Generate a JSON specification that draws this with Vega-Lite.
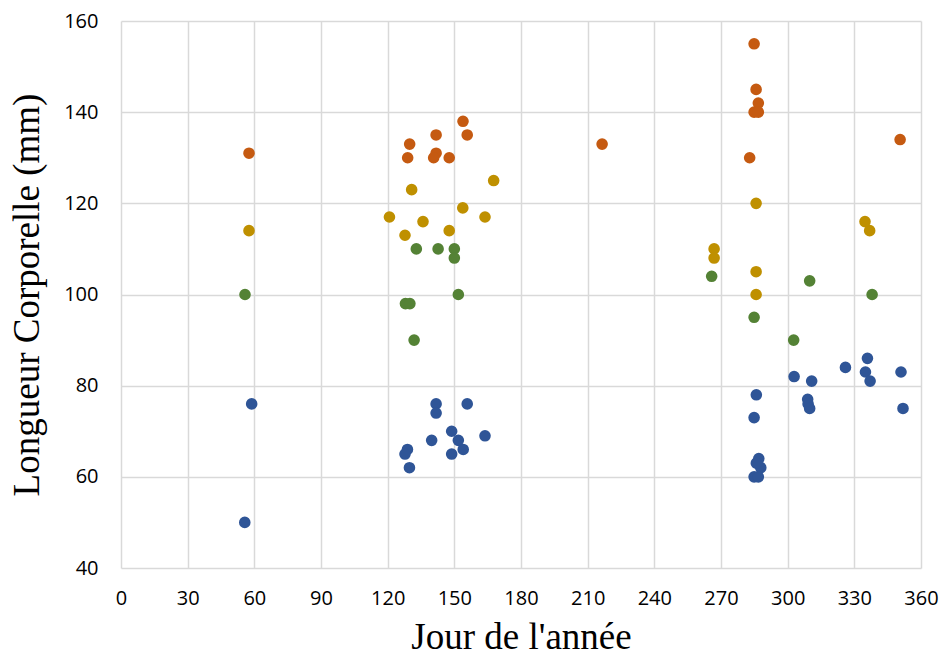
{
  "$schema": "https://vega.github.io/schema/vega-lite/v6.json",
  "autosize": "none",
  "width": 800,
  "height": 547,
  "padding": {"left": 121, "top": 21, "right": 19, "bottom": 89},
  "background": "white",
  "data": {"values": [
    {"jour": 57.6, "longueur": 131, "groupe": "orange"},
    {"jour": 153.9, "longueur": 138, "groupe": "orange"},
    {"jour": 155.8, "longueur": 135, "groupe": "orange"},
    {"jour": 141.8, "longueur": 135, "groupe": "orange"},
    {"jour": 129.9, "longueur": 133, "groupe": "orange"},
    {"jour": 129.0, "longueur": 130, "groupe": "orange"},
    {"jour": 141.8, "longueur": 131, "groupe": "orange"},
    {"jour": 140.7, "longueur": 130, "groupe": "orange"},
    {"jour": 147.7, "longueur": 130, "groupe": "orange"},
    {"jour": 216.5, "longueur": 133, "groupe": "orange"},
    {"jour": 284.9, "longueur": 155, "groupe": "orange"},
    {"jour": 285.8, "longueur": 145, "groupe": "orange"},
    {"jour": 286.8, "longueur": 142, "groupe": "orange"},
    {"jour": 284.9, "longueur": 140, "groupe": "orange"},
    {"jour": 286.8, "longueur": 140, "groupe": "orange"},
    {"jour": 282.9, "longueur": 130, "groupe": "orange"},
    {"jour": 350.6, "longueur": 134, "groupe": "orange"},

    {"jour": 57.6, "longueur": 114, "groupe": "jaune"},
    {"jour": 120.8, "longueur": 117, "groupe": "jaune"},
    {"jour": 130.8, "longueur": 123, "groupe": "jaune"},
    {"jour": 167.7, "longueur": 125, "groupe": "jaune"},
    {"jour": 135.9, "longueur": 116, "groupe": "jaune"},
    {"jour": 153.8, "longueur": 119, "groupe": "jaune"},
    {"jour": 163.8, "longueur": 117, "groupe": "jaune"},
    {"jour": 127.8, "longueur": 113, "groupe": "jaune"},
    {"jour": 147.7, "longueur": 114, "groupe": "jaune"},
    {"jour": 285.8, "longueur": 120, "groupe": "jaune"},
    {"jour": 266.9, "longueur": 110, "groupe": "jaune"},
    {"jour": 266.9, "longueur": 108, "groupe": "jaune"},
    {"jour": 285.8, "longueur": 105, "groupe": "jaune"},
    {"jour": 285.8, "longueur": 100, "groupe": "jaune"},
    {"jour": 334.8, "longueur": 116, "groupe": "jaune"},
    {"jour": 336.9, "longueur": 114, "groupe": "jaune"},

    {"jour": 55.8, "longueur": 100, "groupe": "vert"},
    {"jour": 132.9, "longueur": 110, "groupe": "vert"},
    {"jour": 142.7, "longueur": 110, "groupe": "vert"},
    {"jour": 150.0, "longueur": 110, "groupe": "vert"},
    {"jour": 150.0, "longueur": 108, "groupe": "vert"},
    {"jour": 151.8, "longueur": 100, "groupe": "vert"},
    {"jour": 128.0, "longueur": 98, "groupe": "vert"},
    {"jour": 130.0, "longueur": 98, "groupe": "vert"},
    {"jour": 131.9, "longueur": 90, "groupe": "vert"},
    {"jour": 265.8, "longueur": 104, "groupe": "vert"},
    {"jour": 309.9, "longueur": 103, "groupe": "vert"},
    {"jour": 284.9, "longueur": 95, "groupe": "vert"},
    {"jour": 302.7, "longueur": 90, "groupe": "vert"},
    {"jour": 338.0, "longueur": 100, "groupe": "vert"},

    {"jour": 58.8, "longueur": 76, "groupe": "bleu"},
    {"jour": 55.7, "longueur": 50, "groupe": "bleu"},
    {"jour": 141.8, "longueur": 76, "groupe": "bleu"},
    {"jour": 141.8, "longueur": 74, "groupe": "bleu"},
    {"jour": 155.8, "longueur": 76, "groupe": "bleu"},
    {"jour": 148.8, "longueur": 70, "groupe": "bleu"},
    {"jour": 139.8, "longueur": 68, "groupe": "bleu"},
    {"jour": 151.8, "longueur": 68, "groupe": "bleu"},
    {"jour": 163.8, "longueur": 69, "groupe": "bleu"},
    {"jour": 128.9, "longueur": 66, "groupe": "bleu"},
    {"jour": 127.8, "longueur": 65, "groupe": "bleu"},
    {"jour": 154.0, "longueur": 66, "groupe": "bleu"},
    {"jour": 148.8, "longueur": 65, "groupe": "bleu"},
    {"jour": 129.8, "longueur": 62, "groupe": "bleu"},
    {"jour": 285.9, "longueur": 78, "groupe": "bleu"},
    {"jour": 284.9, "longueur": 73, "groupe": "bleu"},
    {"jour": 287.0, "longueur": 64, "groupe": "bleu"},
    {"jour": 287.9, "longueur": 62, "groupe": "bleu"},
    {"jour": 285.9, "longueur": 63, "groupe": "bleu"},
    {"jour": 284.9, "longueur": 60, "groupe": "bleu"},
    {"jour": 286.8, "longueur": 60, "groupe": "bleu"},
    {"jour": 302.9, "longueur": 82, "groupe": "bleu"},
    {"jour": 310.8, "longueur": 81, "groupe": "bleu"},
    {"jour": 326.0, "longueur": 84, "groupe": "bleu"},
    {"jour": 335.9, "longueur": 86, "groupe": "bleu"},
    {"jour": 335.0, "longueur": 83, "groupe": "bleu"},
    {"jour": 337.1, "longueur": 81, "groupe": "bleu"},
    {"jour": 351.0, "longueur": 83, "groupe": "bleu"},
    {"jour": 351.9, "longueur": 75, "groupe": "bleu"},
    {"jour": 309.0, "longueur": 77, "groupe": "bleu"},
    {"jour": 309.2, "longueur": 76, "groupe": "bleu"},
    {"jour": 309.9, "longueur": 75, "groupe": "bleu"}
  ]},
  "mark": {"type": "circle", "size": 135, "opacity": 1},
  "encoding": {
    "x": {
      "field": "jour", "type": "quantitative",
      "scale": {"domain": [0, 360], "nice": false, "zero": false},
      "axis": {
        "values": [0, 30, 60, 90, 120, 150, 180, 210, 240, 270, 300, 330, 360],
        "title": "Jour de l'année",
        "titleFont": "Liberation Serif", "titleFontSize": 37, "titleFontWeight": "normal", "titleColor": "black",
        "titlePadding": 11,
        "labelFont": "Open Sans", "labelFontSize": 20, "labelColor": "black", "labelPadding": 20,
        "labelFlush": false, "labelOverlap": false,
        "ticks": false, "domain": false,
        "grid": true, "gridColor": "#d9d9d9", "gridWidth": 1.5
      }
    },
    "y": {
      "field": "longueur", "type": "quantitative",
      "scale": {"domain": [40, 160], "nice": false, "zero": false},
      "axis": {
        "values": [40, 60, 80, 100, 120, 140, 160],
        "title": "Longueur Corporelle (mm)",
        "titleFont": "Liberation Serif", "titleFontSize": 37, "titleFontWeight": "normal", "titleColor": "black",
        "titlePadding": 17,
        "labelFont": "Open Sans", "labelFontSize": 20, "labelColor": "black", "labelPadding": 23,
        "labelFlush": false, "labelOverlap": false,
        "ticks": false, "domain": false,
        "grid": true, "gridColor": "#d9d9d9", "gridWidth": 1.5
      }
    },
    "color": {
      "field": "groupe", "type": "nominal",
      "scale": {"domain": ["orange", "jaune", "vert", "bleu"], "range": ["#C55A11", "#BF9000", "#548235", "#2F5597"]},
      "legend": null
    }
  },
  "config": {"view": {"stroke": null}}
}
